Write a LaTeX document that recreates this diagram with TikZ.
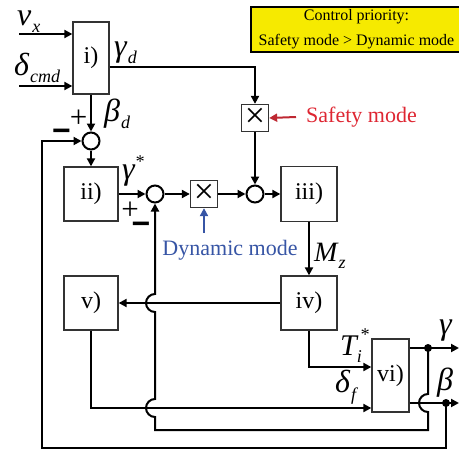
\documentclass[tikz,border=0pt]{standalone}
\usepackage{fontspec}
\setmainfont{Liberation Serif}
\newfontfamily\signfont{Liberation Sans}
\usetikzlibrary{arrows.meta,calc}
\definecolor{safered}{RGB}{222,38,50}
\definecolor{safearrow}{RGB}{190,40,50}
\definecolor{dynblue}{RGB}{55,85,165}
\definecolor{prioyellow}{RGB}{246,234,0}
\newcommand{\symfont}{\fontsize{32}{34}\selectfont\itshape}
\newcommand{\subfont}{\fontsize{18}{18}\selectfont\itshape}
\newcommand{\symsub}[2]{{\symfont #1}\kern1pt\raisebox{-7pt}{\subfont #2}}
\begin{document}
\begin{tikzpicture}[x=1pt,y=-1pt,
  blk/.style={draw=black!80, line width=1.3pt, fill=white, font=\fontsize{24}{24}\selectfont, inner sep=0pt},
  sumc/.style={draw, circle, line width=2pt, minimum size=17pt, inner sep=0pt},
  mult/.style={draw=black!80, line width=1.3pt, fill=white, minimum size=27pt, inner sep=0pt, font=\fontsize{36}{36}\selectfont},
  conn/.style={line width=2pt, -{Triangle[length=8pt,width=8pt]}},
  wire/.style={line width=2pt},
  dot/.style={circle, fill, inner sep=0pt, minimum size=8pt},
  lbl/.style={inner sep=0pt, anchor=base west},
  plussgn/.style={inner sep=0pt, anchor=base, font=\fontsize{31}{31}\selectfont, text height=15pt, text depth=0pt},
  minussgn/.style={inner sep=0pt, anchor=base, font=\signfont\bfseries\fontsize{32}{32}\selectfont, text height=15pt, text depth=0pt},
]
\useasboundingbox (0,0) rectangle (459,451);
\clip (0,0) rectangle (459,451);

% priority box
\node[draw, line width=2pt, fill=prioyellow, minimum width=211pt, minimum height=45pt,
      align=center, font=\fontsize{16}{25}\selectfont, inner sep=0pt] (prio) at (356.5,29.5)
      {Control priority:\\Safety mode > Dynamic mode};

% blocks
\node[blk, minimum width=36pt, minimum height=72pt] (b1) at (91,58) {i)};
\node[blk, minimum width=54pt, minimum height=54pt] (b2) at (91,194) {ii)};
\node[blk, minimum width=56pt, minimum height=55pt] (b3) at (309,194) {iii)};
\node[blk, minimum width=56pt, minimum height=54pt] (b4) at (309,303) {iv)};
\node[blk, minimum width=54pt, minimum height=54pt] (b5) at (91,303) {v)};
\node[blk, minimum width=37pt, minimum height=73pt] (b6) at (390.5,375.5) {vi)};

% summing junctions and multipliers
\node[sumc] (s1) at (91,141) {};
\node[sumc] (s2) at (155,194) {};
\node[sumc] (s3) at (255,194) {};
\node[mult] (m1) at (204,194) {×};
\node[mult] (m2) at (255,118) {×};

% inputs
\coordinate (vxin) at (19,34);
\coordinate (dcin) at (19,86);
\draw[conn] (vxin) -- (vxin -| b1.west);
\draw[conn] (dcin) -- (dcin -| b1.west);
\node[lbl] (vxl) at (17,25) {\symsub{v}{x}};
\node[lbl] (dcl) at (14,75) {\symsub{δ}{cmd}};

% gamma_d path
\draw[conn] (b1.east |- 0,67) -| (m2.north);
\node[lbl] (gdl) at (114,56) {\symsub{γ}{d}};
\draw[conn] (m2.south) -- (s3.north);

% beta_d
\draw[conn] (b1.south) -- (s1.north);
\node[lbl] (bdl) at (104,121) {\symsub{β}{d}};
\node[plussgn] (p1) at (78.5,127.5) {+};
\node[minussgn] (n1) at (61.5,141.5) {−};
\draw[conn] (s1.south) -- (b2.north);

% gamma*
\draw[conn] (b2.east) -- (s2.west);
\node[lbl] (gsl) at (122,179) {{\symfont γ}\raisebox{12pt}{\subfont *}};
\node[plussgn] (p2) at (130,219.5) {+};
\node[minussgn] (n2) at (141,234.5) {−};
\draw[conn] (s2.east) -- (m1.west);
\draw[conn] (m1.east) -- (s3.west);
\draw[conn] (s3.east) -- (b3.west);

% mode inputs
\node[text=safered, font=\fontsize{22}{22}\selectfont, inner sep=0pt, anchor=west] (saft) at (306,117) {Safety mode};
\draw[conn, draw=safearrow, fill=safearrow] ([xshift=-10pt]saft.west) -- (m2.east);
\node[text=dynblue, font=\fontsize{22}{22}\selectfont, inner sep=0pt] (dynt) at (230,250) {Dynamic mode};
\coordinate (dynfoot) at (204,233);
\draw[conn, draw=dynblue, fill=dynblue] (dynfoot) -- (m1.south);

% iii -> iv
\draw[conn] (b3.south) -- (b4.north);
\node[lbl] (mzl) at (314,261) {{\fontsize{28}{30}\selectfont\itshape M}\kern1pt\raisebox{-7pt}{\subfont z}};

% iv -> v
\draw[conn] (b4.west) -- (b5.east);

% iv -> vi
\draw[conn] (b4.south) |- (b6.west |- 0,367);
\node[lbl] (til) at (340,355) {{\fontsize{30}{30}\selectfont\itshape T}\rlap{\raisebox{-7pt}{\subfont i}}\kern3pt\raisebox{15pt}{\subfont *}};

% v -> vi
\draw[conn] (b5.south) |- (b6.west |- 0,408);
\node[lbl] (dfl) at (335,392) {{\symfont δ}\kern1pt\raisebox{-8pt}{\subfont f}};

% outputs
\coordinate (gout) at (459,348);
\coordinate (bout) at (459,403);
\draw[conn] (b6.east |- gout) -- (gout);
\draw[conn] (b6.east |- bout) -- (bout);
\node[dot] (dg) at (428,348) {};
\node[dot] (db) at (446,403) {};
\node[lbl] (gol) at (439,334) {\symfont γ};
\node[lbl] (bol) at (437,390) {\symfont β};

% gamma feedback with jumps
\draw[conn] (dg.center) -- (428,394) arc[start angle=90,end angle=270,radius=9pt]
  -- (428,430) -- (155,430) -- (155,417) arc[start angle=270,end angle=90,radius=9pt]
  -- (155,312) arc[start angle=270,end angle=90,radius=9pt] -- (s2.south);

% beta feedback
\draw[conn] (db.center) -- (446,448) -- (42,448) -- (42,141) -- (s1.west);
\end{tikzpicture}
\end{document}
